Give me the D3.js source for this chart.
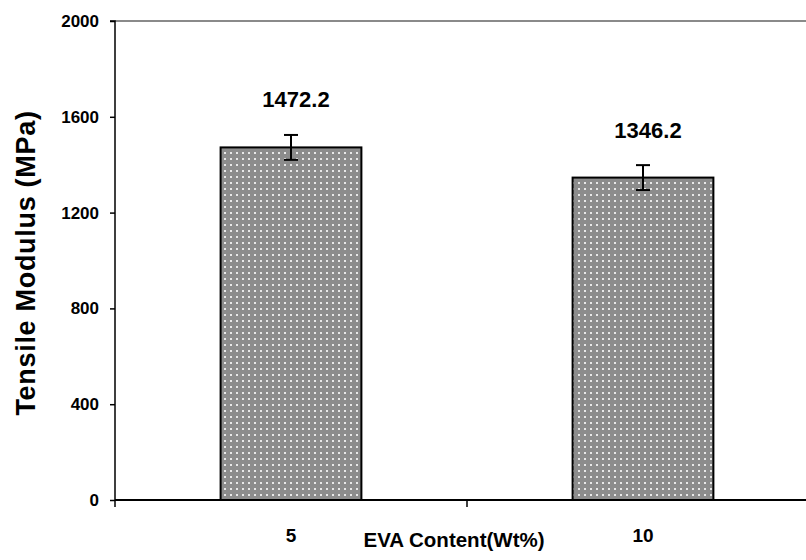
<!DOCTYPE html>
<html>
<head>
<meta charset="utf-8">
<script src="https://cdn.jsdelivr.net/npm/d3@7"></script>
<style>
  html, body { margin: 0; padding: 0; background: #fff; }
  svg { display: block; font-family: "Liberation Sans", Arial, sans-serif; font-weight: bold; }
</style>
</head>
<body>
<svg id="chart" width="806" height="560"></svg>
<script>
// EVA content categories and tensile modulus results
const categories = ["5", "10"];
const modulus = [1472.2, 1346.2];
const errors = [52, 52];
const yTicks = [0, 400, 800, 1200, 1600, 2000];

const svg = d3.select("#chart");
const plotLeft = 115, plotRight = 819, plotTop = 21, plotBottom = 500;

const x = d3.scaleBand().domain(categories).range([plotLeft, plotRight]).paddingInner(0.6).paddingOuter(0.3);
const xGroup = d3.scaleBand().domain(categories).range([plotLeft, plotRight]);
const y = d3.scaleLinear().domain([0, 2000]).range([plotBottom, plotTop]);

// dotted fill for the bars
const defs = svg.append("defs");
const pat = defs.append("pattern").attr("id", "dots")
  .attr("patternUnits", "userSpaceOnUse").attr("width", 6).attr("height", 6);
pat.append("rect").attr("width", 6).attr("height", 6).attr("fill", "#8c8c8c");
pat.append("rect").attr("x", 2).attr("y", 2).attr("width", 2).attr("height", 2).attr("fill", "#e8e8e8");

// top frame line
svg.append("line").attr("x1", plotLeft).attr("x2", 806).attr("y1", plotTop).attr("y2", plotTop)
  .attr("stroke", "#8a8a8a").attr("stroke-width", 2);

// bars
svg.append("g").selectAll("rect").data(categories).join("rect")
  .attr("x", d => x(d))
  .attr("y", (d, i) => y(modulus[i]))
  .attr("width", x.bandwidth())
  .attr("height", (d, i) => y(0) - y(modulus[i]))
  .attr("fill", "url(#dots)")
  .attr("stroke", "#000").attr("stroke-width", 2);

// error bars
const eb = svg.append("g").attr("stroke", "#000").attr("stroke-width", 2);
categories.forEach((c, i) => {
  const cx = x(c) + x.bandwidth() / 2;
  eb.append("line").attr("x1", cx).attr("x2", cx).attr("y1", y(modulus[i] + errors[i])).attr("y2", y(modulus[i] - errors[i]));
  [modulus[i] + errors[i], modulus[i] - errors[i]].forEach(v => {
    eb.append("line").attr("x1", cx - 7).attr("x2", cx + 7).attr("y1", y(v)).attr("y2", y(v));
  });
});

// value labels
svg.append("g").selectAll("text").data(categories).join("text")
  .attr("x", d => x(d) + x.bandwidth() / 2 + 5)
  .attr("y", (d, i) => y(modulus[i]) - 40)
  .attr("text-anchor", "middle")
  .attr("font-size", 22)
  .text((d, i) => modulus[i].toFixed(1));

// y axis
const yAxis = svg.append("g").attr("transform", `translate(${plotLeft},0)`)
  .call(d3.axisLeft(y).tickValues(yTicks).tickSize(5).tickPadding(11).tickFormat(d3.format("d")));
yAxis.select(".domain").attr("stroke", "#000").attr("stroke-width", 1.5).attr("d", `M-5,${plotTop}H0V${plotBottom}`);
yAxis.selectAll(".tick line").attr("stroke", "#000").attr("stroke-width", 1.5);
yAxis.selectAll(".tick text").attr("font-size", 17).attr("font-weight", "bold").attr("fill", "#000")
  .attr("font-family", "Liberation Sans, Arial, sans-serif");

// x axis
const xAxis = svg.append("g").attr("transform", `translate(0,${plotBottom})`);
xAxis.append("line").attr("x1", plotLeft).attr("x2", 806).attr("y1", 0).attr("y2", 0)
  .attr("stroke", "#000").attr("stroke-width", 2);
xAxis.selectAll(".xt").data(categories.concat(["end"])).join("line")
  .attr("x1", (d, i) => plotLeft + i * xGroup.bandwidth()).attr("x2", (d, i) => plotLeft + i * xGroup.bandwidth())
  .attr("y1", 0).attr("y2", 7).attr("stroke", "#000").attr("stroke-width", 1.5);
xAxis.selectAll("text").data(categories).join("text")
  .attr("x", d => xGroup(d) + xGroup.bandwidth() / 2)
  .attr("y", 42)
  .attr("text-anchor", "middle")
  .attr("font-size", 19)
  .text(d => d);

// axis titles
svg.append("text").attr("x", 454).attr("y", 547).attr("text-anchor", "middle")
  .attr("font-size", 20.5).text("EVA Content(Wt%)");
svg.append("text").attr("transform", "translate(35,263) rotate(-90)").attr("text-anchor", "middle")
  .attr("font-size", 27).attr("letter-spacing", 0.7).text("Tensile Modulus (MPa)");
</script>
</body>
</html>
